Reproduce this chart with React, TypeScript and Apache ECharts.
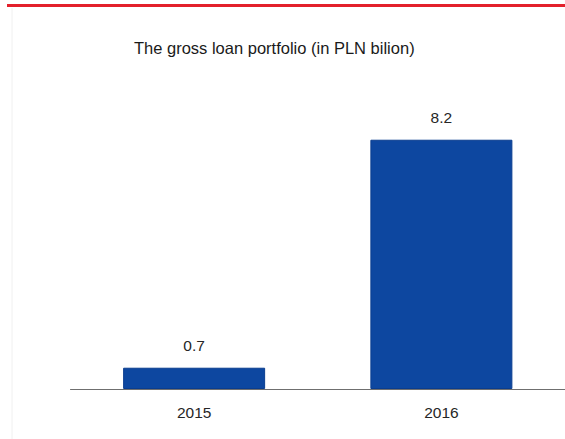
import React, { useEffect, useRef } from "react";
import * as echarts from "echarts";

const categories = ["2015", "2016"];
const values = [0.7, 8.2];
const titleText = "The gross loan portfolio (in PLN bilion)";

export default function App() {
  const ref = useRef<HTMLDivElement>(null);
  useEffect(() => {
    if (!ref.current) return;
    const chart = echarts.init(ref.current, null, { renderer: "svg" });
    chart.setOption({
      animation: false,
      backgroundColor: "#ffffff",
      title: {
        text: titleText,
        left: 129,
        top: 34,
        textStyle: {
          fontFamily: "Liberation Sans",
          fontSize: 16.5,
          fontWeight: "normal",
          color: "#1a1a1a",
        },
      },
      graphic: [
        {
          type: "rect",
          shape: { x: 7, y: 4, width: 565, height: 3 },
          style: { fill: "#e3202b" },
        },
        {
          type: "line",
          shape: { x1: 12, y1: 8, x2: 12, y2: 439 },
          style: { stroke: "#f0f0f0", lineWidth: 1 },
        },
      ],
      grid: { left: 70.5, width: 500, top: 85, height: 304 },
      xAxis: {
        type: "category",
        data: categories,
        axisLine: { lineStyle: { color: "#6f6f6f", width: 1 } },
        axisTick: { show: false },
        axisLabel: {
          fontFamily: "Liberation Sans",
          fontSize: 15.5,
          color: "#262626",
          margin: 15,
        },
      },
      yAxis: {
        type: "value",
        min: 0,
        max: 10,
        show: false,
        splitLine: { show: false },
      },
      series: [
        {
          type: "bar",
          data: values,
          barWidth: 142,
          itemStyle: { color: "#0d47a0", borderColor: "#0a3d8f", borderWidth: 1 },
          label: {
            show: true,
            position: "top",
            distance: 14,
            fontFamily: "Liberation Sans",
            fontSize: 15.5,
            color: "#262626",
            formatter: (p: any) => p.value.toFixed(1),
          },
        },
      ],
    });
    return () => chart.dispose();
  }, []);
  return (
    <div
      ref={ref}
      style={{ position: "fixed", left: 0, top: 0, width: 565, height: 439 }}
    />
  );
}
